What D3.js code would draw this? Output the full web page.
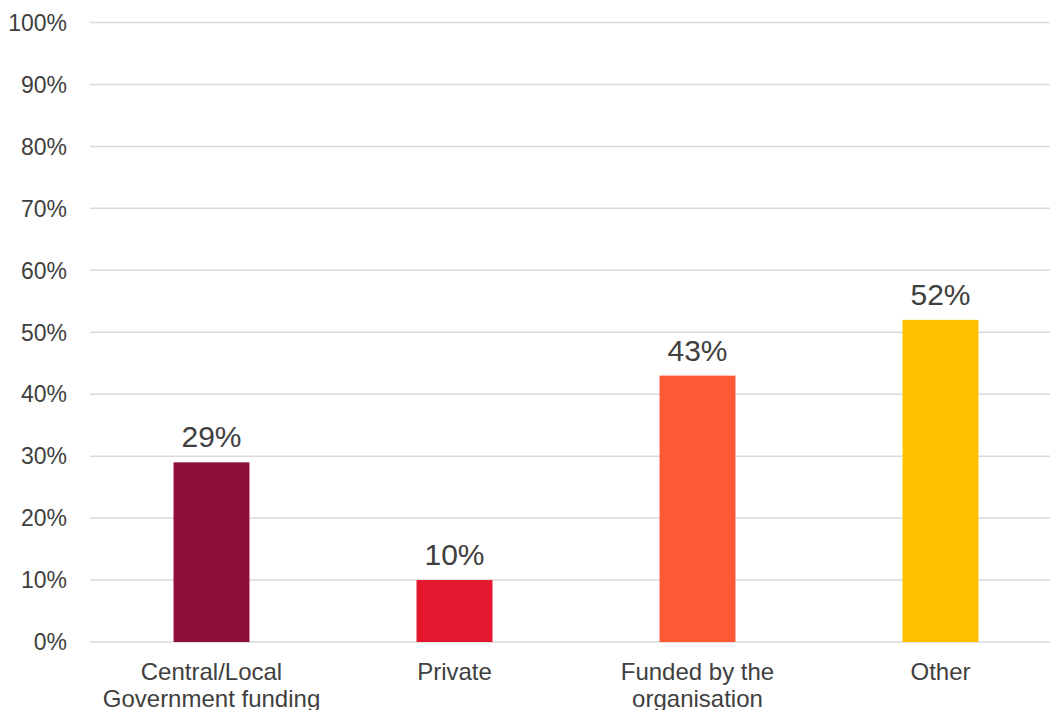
<!DOCTYPE html>
<html>
<head>
<meta charset="utf-8">
<script src="https://cdn.jsdelivr.net/npm/d3@7"></script>
<style>
  html, body { margin: 0; padding: 0; background: #ffffff; }
  svg { display: block; }
  text { font-family: "Liberation Sans", Arial, sans-serif; fill: #404040; }
</style>
</head>
<body>
<svg id="chart" width="1050" height="710"></svg>
<script>
// Funding sources (share of respondents)
const categories = [
  ["Central/Local", "Government funding"],
  ["Private"],
  ["Funded by the", "organisation"],
  ["Other"]
];
const values = [29, 10, 43, 52];
const colors = ["#8F0E3C", "#E4172F", "#FF5835", "#FFC000"];
const yTicks = [0, 10, 20, 30, 40, 50, 60, 70, 80, 90, 100];

const svg = d3.select("#chart");
const plot = { left: 90, right: 1062, top: 22.5, bottom: 642 };

const x = d3.scaleBand()
  .domain(d3.range(categories.length))
  .range([plot.left, plot.right])
  .padding(0);

const y = d3.scaleLinear().domain([0, 100]).range([plot.bottom, plot.top]);

const barW = x.bandwidth() * 0.3125;

// Gridlines
svg.append("g")
  .selectAll("line")
  .data(yTicks)
  .join("line")
  .attr("x1", plot.left)
  .attr("x2", plot.right)
  .attr("y1", d => y(d))
  .attr("y2", d => y(d))
  .attr("stroke", "#D9D9D9")
  .attr("stroke-width", 1.5);

// Y axis labels
svg.append("g")
  .selectAll("text")
  .data(yTicks)
  .join("text")
  .attr("x", 67)
  .attr("y", d => y(d))
  .attr("dy", "0.36em")
  .attr("text-anchor", "end")
  .style("font-size", "23px")
  .text(d => d + "%");

// Bars
svg.append("g")
  .selectAll("rect")
  .data(values)
  .join("rect")
  .attr("x", (d, i) => x(i) + x.bandwidth() / 2 - barW / 2)
  .attr("y", d => y(d))
  .attr("width", barW)
  .attr("height", d => y(0) - y(d))
  .attr("fill", (d, i) => colors[i]);

// Value labels
svg.append("g")
  .selectAll("text")
  .data(values)
  .join("text")
  .attr("x", (d, i) => x(i) + x.bandwidth() / 2)
  .attr("y", d => y(d) - 15)
  .attr("text-anchor", "middle")
  .style("font-size", "30px")
  .text(d => d + "%");

// Category labels
const cat = svg.append("g")
  .selectAll("text")
  .data(categories)
  .join("text")
  .attr("x", (d, i) => x(i) + x.bandwidth() / 2)
  .attr("y", 679.5)
  .attr("text-anchor", "middle")
  .style("font-size", "24px");

cat.selectAll("tspan")
  .data(d => d)
  .join("tspan")
  .attr("x", function() { return this.parentNode.getAttribute("x"); })
  .attr("dy", (d, i) => i === 0 ? 0 : 27)
  .text(d => d);
</script>
</body>
</html>
